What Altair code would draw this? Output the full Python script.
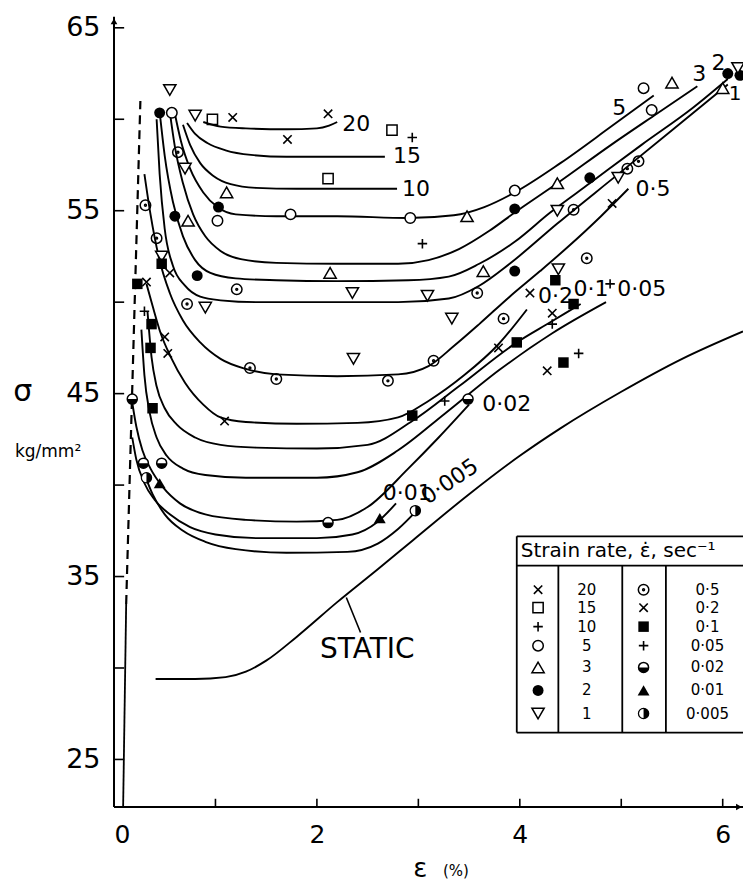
import altair as alt
import pandas as pd

FONT = "DejaVu Sans"
X_DOM = [0, 6.2]
Y_DOM = [22.4, 65.7]

# ---------------- curves: strain (%) and stress (kg/mm2) ----------------
curve_x = {
    "20": [0.88, 1.05, 1.3, 1.7, 2.0, 2.12, 2.2],
    "15": [0.72, 0.8, 0.92, 1.1, 1.35, 1.7, 2.2, 2.67],
    "10": [0.68, 0.75, 0.85, 0.98, 1.15, 1.4, 1.8, 2.4, 2.79],
    "5": [0.6, 0.66, 0.75, 0.88, 1.02, 1.2, 1.6, 2.2, 2.9, 3.35, 3.65, 3.95, 4.4, 4.9, 5.32],
    "3": [0.55, 0.6, 0.68, 0.78, 0.9, 1.05, 1.25, 1.6, 2.2, 2.8, 3.1, 3.4, 3.7, 3.95, 4.37, 4.9, 5.35, 5.75],
    "2": [0.45, 0.5, 0.58, 0.68, 0.8, 0.95, 1.2, 1.6, 2.2, 2.9, 3.3, 3.6, 3.95, 4.3, 4.69, 5.2, 5.7, 6.05],
    "1": [0.42, 0.45, 0.5, 0.58, 0.7, 0.85, 1.05, 1.4, 2.0, 2.8, 3.3, 3.6, 3.9, 4.37, 4.97, 5.5, 6.05],
    "0·5": [0.3, 0.36, 0.44, 0.55, 0.68, 0.85, 1.05, 1.3, 1.6, 2.2, 2.8, 3.1, 3.35, 3.6, 3.9, 4.2, 4.47, 4.8, 5.07],
    "0·2": [0.32, 0.38, 0.46, 0.56, 0.7, 0.88, 1.05, 1.3, 1.8, 2.4, 2.8, 3.1, 3.45, 3.79, 4.07],
    "0·1": [0.33, 0.37, 0.42, 0.5, 0.62, 0.8, 1.05, 1.4, 2.0, 2.5, 2.94, 3.4, 3.97, 4.3, 4.6],
    "0·05": [0.27, 0.3, 0.35, 0.42, 0.52, 0.68, 0.9, 1.3, 2.0, 2.4, 2.8, 3.26, 3.8, 4.32, 4.85],
    "0·02": [0.18, 0.22, 0.28, 0.36, 0.48, 0.65, 0.9, 1.3, 1.8, 2.2, 2.5, 2.9, 3.2, 3.5],
    "0·01": [0.18, 0.22, 0.3, 0.4, 0.55, 0.75, 1.0, 1.4, 2.0, 2.35, 2.6, 2.78],
    "0·005": [0.3, 0.38, 0.5, 0.68, 0.9, 1.2, 1.7, 2.3, 2.6, 2.8, 3.0],
    "STATIC": [0.41, 0.8, 1.1, 1.3, 1.5, 1.8, 2.2, 2.6, 2.95, 3.5, 4.0, 4.4, 5.0, 5.6, 6.2],
}
curve_y = {
    "20": [59.85, 59.6, 59.5, 59.45, 59.5, 59.65, 59.85],
    "15": [59.8, 59.2, 58.7, 58.3, 58.05, 57.95, 57.95, 57.95],
    "10": [59.7, 58.6, 57.6, 56.9, 56.45, 56.25, 56.2, 56.2, 56.2],
    "5": [60.3, 58.8, 57.3, 56.0, 55.2, 54.8, 54.7, 54.7, 54.6, 54.75, 55.2, 56.0, 57.6, 59.6, 61.3],
    "3": [60.4, 58.5, 56.5, 54.8, 53.6, 52.8, 52.35, 52.15, 52.1, 52.1, 52.3, 52.9, 53.9, 54.9, 56.5, 58.6, 60.3, 61.8],
    "2": [60.4, 58.0, 55.5, 53.6, 52.3, 51.6, 51.3, 51.2, 51.15, 51.2, 51.4, 52.1, 53.3, 54.9, 56.5, 58.6, 60.6, 62.2],
    "1": [60.0, 57.0, 54.0, 52.0, 50.9, 50.3, 50.1, 50.0, 50.0, 50.0, 50.2, 50.9, 52.1, 54.3, 57.0, 59.4, 61.9],
    "0·5": [57.0, 54.8, 52.5, 50.5, 49.0, 47.8, 46.9, 46.35, 46.05, 45.95, 46.05, 46.5, 47.6, 48.8, 50.3, 51.7, 53.0, 54.7, 56.2],
    "0·2": [51.0, 49.8, 48.3, 47.0, 45.6, 44.4, 43.7, 43.45, 43.35, 43.4, 43.7, 44.6, 46.0, 47.7, 49.6],
    "0·1": [49.5, 47.0, 45.4, 44.2, 43.3, 42.6, 42.2, 42.05, 42.0, 42.2, 43.5, 45.4, 47.8, 48.9, 49.9],
    "0·05": [48.5, 46.0, 44.0, 42.6, 41.6, 40.9, 40.55, 40.4, 40.4, 40.7, 41.9, 43.9, 46.3, 48.3, 50.0],
    "0·02": [44.5, 43.2, 41.9, 40.9, 39.9, 39.0, 38.4, 38.1, 38.0, 38.1, 38.8, 40.9, 42.6, 44.4],
    "0·01": [42.6, 41.4, 40.1, 39.2, 38.4, 37.7, 37.3, 37.1, 37.1, 37.3, 38.0, 39.0],
    "0·005": [40.6, 39.5, 38.4, 37.5, 36.9, 36.5, 36.3, 36.35, 36.8, 37.6, 38.7],
    "STATIC": [29.4, 29.4, 29.5, 29.8, 30.4, 31.7, 33.6, 35.4, 37.0, 39.5, 41.6, 43.1, 45.1, 46.9, 48.4],
}

# elastic loading line (solid foot, dashed upper part)
elastic_solid_x = [0.09, 0.12]
elastic_solid_y = [22.4, 33.5]
elastic_dash_x = [0.12, 0.26]
elastic_dash_y = [33.5, 61.0]

# ---------------- measured points ----------------
points = {
    "20": [(1.17, 60.1), (1.71, 58.9), (2.11, 60.3)],
    "15": [(0.97, 60.0), (2.11, 56.75), (2.74, 59.4)],
    "10": [(2.94, 59.0), (3.04, 53.2)],
    "5": [(0.57, 60.35), (1.02, 54.45), (1.74, 54.8), (2.92, 54.6), (3.95, 56.1), (5.22, 61.7), (5.3, 60.5)],
    "3": [(0.73, 54.45), (1.11, 56.0), (2.13, 51.6), (3.48, 54.7), (3.64, 51.7), (4.37, 56.5), (5.5, 62.0), (6.0, 61.7)],
    "2": [(0.45, 60.35), (0.6, 54.7), (0.82, 51.45), (1.03, 55.2), (3.95, 55.1), (3.95, 51.7), (4.69, 56.8), (6.05, 62.5), (6.17, 62.4)],
    "1": [(0.55, 61.6), (0.8, 60.2), (0.7, 57.3), (0.47, 52.5), (0.9, 49.7), (2.35, 50.5), (3.09, 50.35), (3.33, 49.1),
          (2.36, 46.9), (4.37, 55.0), (4.38, 51.8), (4.97, 56.8), (6.15, 62.8)],
    "0·5": [(0.31, 55.3), (0.42, 53.5), (0.63, 58.2), (0.72, 49.9), (1.21, 50.7), (1.34, 46.4), (1.6, 45.8), (2.7, 45.7),
            (3.15, 46.8), (3.58, 50.5), (3.84, 49.1), (4.53, 55.05), (4.66, 52.4), (5.06, 57.3), (5.17, 57.7)],
    "0·2": [(0.32, 51.1), (0.55, 51.6), (0.5, 48.1), (0.53, 47.2), (1.09, 43.5), (3.79, 47.5), (4.1, 50.5), (4.32, 49.4),
            (4.27, 46.25), (4.91, 55.4)],
    "0·1": [(0.23, 51.0), (0.47, 52.1), (0.37, 48.8), (0.36, 47.5), (0.38, 44.2), (2.94, 43.8), (3.97, 47.8), (4.35, 51.2),
            (4.53, 49.9), (4.43, 46.7)],
    "0·05": [(0.3, 49.5), (3.26, 44.6), (4.32, 48.8), (4.58, 47.2), (4.89, 51.0)],
    "0·02": [(0.18, 44.7), (0.29, 41.2), (0.47, 41.2), (2.11, 37.95), (3.49, 44.7)],
    "0·01": [(0.45, 40.1), (2.62, 38.2)],
    "0·005": [(0.32, 40.4), (2.97, 38.6)],
}

# ---------------- legend table ----------------
legend_left = ["20", "15", "10", "5", "3", "2", "1"]
legend_right = ["0·5", "0·2", "0·1", "0·05", "0·02", "0·01", "0·005"]
legend_row_y = [34.28, 33.3, 32.26, 31.22, 30.03, 28.77, 27.51]
legend_col_x = [4.18, 4.66, 5.22, 5.85]   # marker, value, marker, value
box_left, box_right = 3.97, 6.4
box_top, box_head, box_bottom = 37.2, 35.6, 26.47
box_cols = [4.38, 5.01, 5.44]

style_of = {"20": "x", "15": "sq", "10": "plus", "5": "circ", "3": "tri", "2": "dot", "1": "tridown",
            "0·5": "dotcirc", "0·2": "x", "0·1": "fsq", "0·05": "plus", "0·02": "halfb", "0·01": "ftri",
            "0·005": "halfr"}

# ---------------- build tables ----------------
rows = []
for name in curve_x:
    for i, (xv, yv) in enumerate(zip(curve_x[name], curve_y[name])):
        rows.append({"series": name, "i": i, "x": xv, "y": yv})
curves_df = pd.DataFrame(rows)

prow = []
for name, pts in points.items():
    for xv, yv in pts:
        prow.append({"series": name, "style": style_of[name], "x": xv, "y": yv})
for k, name in enumerate(legend_left):
    prow.append({"series": name, "style": style_of[name], "x": legend_col_x[0], "y": legend_row_y[k]})
for k, name in enumerate(legend_right):
    prow.append({"series": name, "style": style_of[name], "x": legend_col_x[2], "y": legend_row_y[k]})
pts_df = pd.DataFrame(prow)

xs = alt.Scale(domain=X_DOM, nice=False, zero=False)
ys = alt.Scale(domain=Y_DOM, nice=False, zero=False)
AX_X = alt.Axis(values=[0, 2, 4, 6], title=None, domain=False, ticks=False, tickSize=0, grid=False,
                labelFontSize=25, labelFont=FONT, labelColor="black", labelPadding=15)
AX_Y = alt.Axis(values=[25, 35, 45, 55, 65], title=None, domain=False, ticks=False, tickSize=0, grid=False,
                labelFontSize=27, labelFont=FONT, labelColor="black", labelPadding=14)
X = alt.X("x:Q", scale=xs, axis=AX_X)
Y = alt.Y("y:Q", scale=ys, axis=AX_Y)

layers = []

# axis lines
axl = pd.DataFrame({"x": [0.0, 0.0], "x2": [0.0, 6.2], "y": [22.4, 22.4], "y2": [65.6, 22.4]})
layers.append(alt.Chart(axl).mark_rule(color="black", strokeWidth=2).encode(x=X, x2="x2:Q", y=Y, y2="y2:Q"))
arrow_df = pd.DataFrame({"x": [0.0], "y": [65.35]})
layers.append(alt.Chart(arrow_df).mark_point(shape="triangle-up", filled=True, color="black", size=45, opacity=1)
              .encode(x=X, y=Y))
arrow_df2 = pd.DataFrame({"x": [6.16], "y": [22.4]})
layers.append(alt.Chart(arrow_df2).mark_point(shape="triangle-right", filled=True, color="black", size=45, opacity=1)
              .encode(x=X, y=Y))

# tick marks (inside)
yt = [25, 30, 35, 40, 45, 50, 55, 60, 65]
ytick_df = pd.DataFrame({"y": yt, "x": [0.0] * len(yt), "x2": [0.1] * len(yt)})
layers.append(alt.Chart(ytick_df).mark_rule(color="black", strokeWidth=1.6).encode(x=X, x2="x2:Q", y=Y))
xt = [1, 2, 3, 4, 5, 6]
xtick_df = pd.DataFrame({"x": xt, "y": [22.4] * len(xt), "y2": [22.85] * len(xt)})
layers.append(alt.Chart(xtick_df).mark_rule(color="black", strokeWidth=1.6).encode(x=X, y=Y, y2="y2:Q"))

# elastic line
el_s = pd.DataFrame({"x": elastic_solid_x, "y": elastic_solid_y, "i": [0, 1]})
el_d = pd.DataFrame({"x": elastic_dash_x, "y": elastic_dash_y, "i": [0, 1]})
layers.append(alt.Chart(el_s).mark_line(color="black", strokeWidth=1.8).encode(x=X, y=Y, order="i:Q"))
layers.append(alt.Chart(el_d).mark_line(color="black", strokeWidth=2.2, strokeDash=[9, 6]).encode(x=X, y=Y, order="i:Q"))

# curves
layers.append(
    alt.Chart(curves_df).mark_line(color="black", strokeWidth=1.9, interpolate="monotone")
    .encode(x=X, y=Y, detail="series:N", order="i:Q")
)

# markers
X_PATH = "M-1,-1L1,1M1,-1L-1,1"
PLUS_PATH = "M-1,0L1,0M0,-1L0,1"
DOTCIRC_PATH = ("M-1,0A1,1,0,1,1,1,0A1,1,0,1,1,-1,0Z"
                "M-0.18,0A0.18,0.18,0,1,1,0.18,0A0.18,0.18,0,1,1,-0.18,0Z")
HALF_BOTTOM = "M-1,0A1,1,0,0,0,1,0Z"


def mk(style, **kw):
    d = pts_df[pts_df["style"] == style]
    return alt.Chart(d).mark_point(opacity=1, **kw).encode(x=X, y=Y)


layers += [
    mk("x", shape=X_PATH, filled=False, stroke="black", strokeWidth=1.6, size=70),
    mk("plus", shape=PLUS_PATH, filled=False, stroke="black", strokeWidth=1.6, size=90),
    mk("sq", shape="square", filled=False, stroke="black", strokeWidth=1.5, size=105),
    mk("circ", shape="circle", filled=True, fill="white", stroke="black", strokeWidth=1.5, size=110),
    mk("tri", shape="triangle-up", filled=True, fill="white", stroke="black", strokeWidth=1.5, size=150),
    mk("dot", shape="circle", filled=True, color="black", size=120),
    mk("tridown", shape="triangle-down", filled=True, fill="white", stroke="black", strokeWidth=1.5, size=150),
    mk("dotcirc", shape=DOTCIRC_PATH, filled=False, stroke="black", strokeWidth=1.5, size=110),
    mk("fsq", shape="square", filled=True, color="black", size=110),
    mk("halfb", shape="circle", filled=True, fill="white", stroke="black", strokeWidth=1.5, size=100),
    mk("halfb", shape=HALF_BOTTOM, filled=True, color="black", size=100),
    mk("ftri", shape="triangle-up", filled=True, color="black", size=140),
    mk("halfr", shape="circle", filled=True, fill="black", stroke="black", strokeWidth=1.5, size=100),
    mk("halfr", shape="M0,-0.9A0.9,0.9,0,0,0,0,0.9Z", filled=True, color="white", size=100),
]

# legend box rules
hr = pd.DataFrame({"x": [box_left] * 3, "x2": [box_right] * 3, "y": [box_top, box_head, box_bottom]})
layers.append(alt.Chart(hr).mark_rule(color="black", strokeWidth=1.8).encode(x=X, x2="x2:Q", y=Y))
vr_x = [box_left] + box_cols
vr = pd.DataFrame({"x": vr_x, "y": [box_bottom] * 4, "y2": [box_top] + [box_head] * 3})
layers.append(alt.Chart(vr).mark_rule(color="black", strokeWidth=1.8).encode(x=X, y=Y, y2="y2:Q"))


def texts(items, align="left", baseline="middle"):
    df = pd.DataFrame(items, columns=["x", "y", "t", "fs", "ang"])
    return alt.Chart(df).mark_text(align=align, baseline=baseline, font=FONT, color="black").encode(
        x=X, y=Y, text="t:N", size=alt.Size("fs:Q", scale=None, legend=None),
        angle=alt.Angle("ang:Q", scale=None))


# legend texts
leg_items = [(legend_col_x[1], legend_row_y[k], v, 15, 0) for k, v in enumerate(legend_left)]
leg_items += [(legend_col_x[3], legend_row_y[k], v, 15, 0) for k, v in enumerate(legend_right)]
layers.append(texts(leg_items, align="center"))
layers.append(texts([(4.01, 36.42, "Strain rate, ε̇, sec⁻¹", 20, 0)]))

# curve labels
label_items = [
    (2.25, 59.75, "20", 22, 0), (2.75, 58.0, "15", 22, 0), (2.84, 56.2, "10", 22, 0),
    (4.91, 60.6, "5", 22, 0), (5.7, 62.5, "3", 22, 0), (5.89, 63.1, "2", 22, 0), (6.06, 61.4, "1", 20, 0),
    (5.14, 56.2, "0·5", 22, 0), (4.18, 50.35, "0·2", 22, 0), (4.53, 50.74, "0·1", 22, 0),
    (4.96, 50.74, "0·05", 22, 0), (3.63, 44.45, "0·02", 22, 0), (2.65, 39.55, "0·01", 22, 0),
    (2.03, 30.96, "STATIC", 28, 0),
]
layers.append(texts(label_items))
layers.append(texts([(3.31, 40.19, "0·005", 22, 326)], align="center"))

# STATIC leader
lead = pd.DataFrame({"x": [2.29], "x2": [2.43], "y": [33.85], "y2": [31.94]})
layers.append(alt.Chart(lead).mark_rule(color="black", strokeWidth=1.6).encode(x=X, x2="x2:Q", y=Y, y2="y2:Q"))

# axis titles
layers.append(texts([(-0.9, 45.1, "σ", 30, 0)], align="center"))
layers.append(texts([(3.02, 18.6, "ε", 26, 0)], align="center", baseline="alphabetic"))
layers.append(texts([(-0.65, 41.83, "kg/mm²", 17, 0)], align="center"))
layers.append(texts([(3.37, 18.65, "(%)", 15, 0)], align="center", baseline="alphabetic"))

chart = alt.layer(*layers).properties(
    width=629, height=792,
    padding={"left": 114, "top": 15, "right": 0, "bottom": 80},
    autosize=alt.AutoSizeParams(type="none"),
    background="white",
).configure_view(strokeOpacity=0)

chart.save("out.html", embed_options={"renderer": "svg", "actions": False})
